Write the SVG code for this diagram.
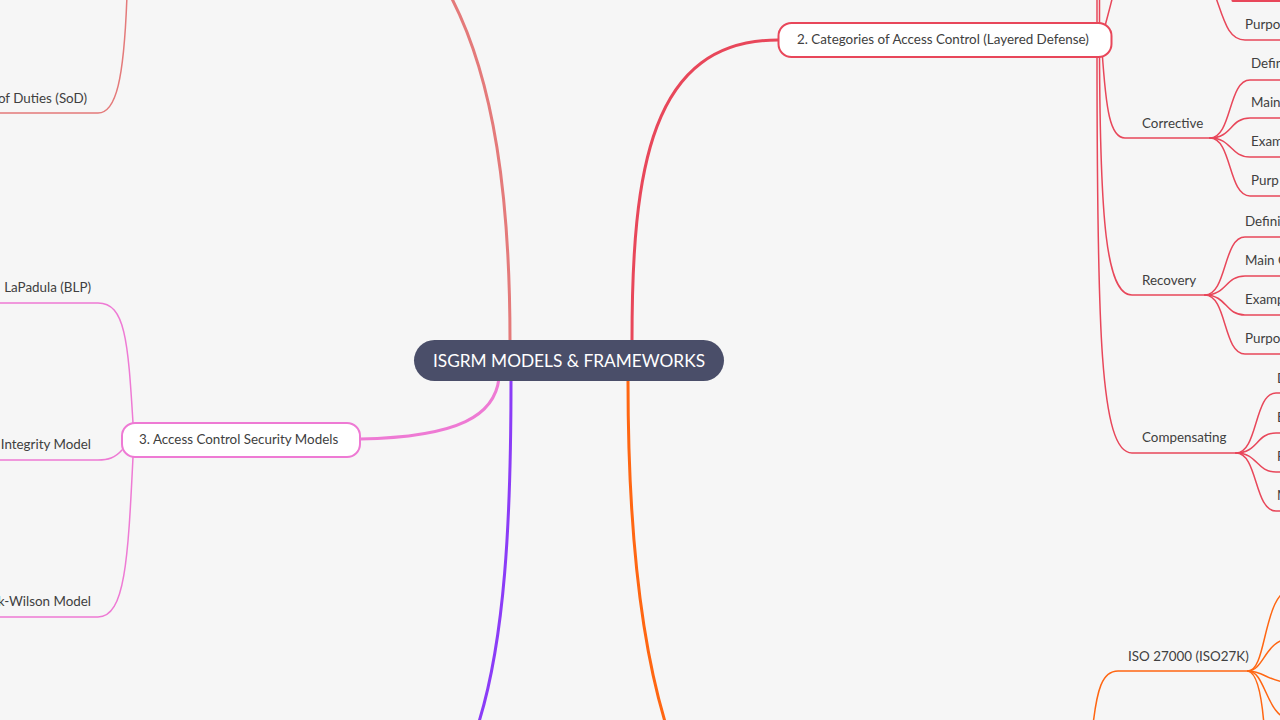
<svg xmlns="http://www.w3.org/2000/svg" width="1280" height="720" viewBox="0 0 1280 720">
<style>
  .bg{fill:#f6f6f6}
  .main{fill:none;stroke-width:3;stroke-linecap:round}
  .sub{fill:none;stroke-width:1.5;stroke-linecap:round}
  .red{stroke:#e8475a}
  .sal{stroke:#e47a7a}
  .pink{stroke:#ee7ad4}
  .purple{stroke:#8b3cf7}
  .orange{stroke:#ff6612}
  .t{font-family:Lato,"Liberation Sans",sans-serif;font-size:13.4px;fill:#404040}
  .box{fill:#ffffff;stroke-width:2}
  .title{font-family:Lato,"Liberation Sans",sans-serif;font-size:17.3px;fill:#ffffff}
</style>
<rect class="bg" x="0" y="0" width="1280" height="720"/>

<g id="connectors">
  <!-- main branches -->
  <path class="main sal" d="M510,341 C510,200 495,80 450,-5"/>
  <path class="main red" d="M632,341 C632,170 650,40 778,40"/>
  <path class="main pink" d="M499,378 C495,415 460,437 360,439"/>
  <path class="main purple" d="M511,381 C511,520 505,640 478,725"/>
  <path class="main orange" d="M628,381 C628,520 640,640 666,725"/>

  <!-- top-left salmon -->
  <path class="sub sal" d="M127,-5 C124,80 116,113 98,113 L-5,113"/>

  <!-- node 3 children -->
  <path class="sub pink" d="M133,423 C128,340 125,303 98,303 L-5,303"/>
  <path class="sub pink" d="M122,450 C115,458 108,460 98,460 L-5,460"/>
  <path class="sub pink" d="M133,457 C128,560 125,617 98,617 L-5,617"/>

  <!-- node 2 children above -->
  <path class="sub red" d="M1097,40 L1097,-5"/>
  <path class="sub red" d="M1099.5,40 L1099.5,-5"/>
  <path class="sub red" d="M1104,30 C1107,18 1110,8 1113,-5"/>
  <!-- node 2 children below -->
  <path class="sub red" d="M1102,50 C1106,110 1110,138 1125,138 L1210,138"/>
  <path class="sub red" d="M1099.5,50 C1100,220 1106,295 1132,295 L1205,295"/>
  <path class="sub red" d="M1097,50 C1097,330 1100,453 1132,453 L1236,453"/>

  <!-- top-right leaves -->
  <path class="sub red" d="M1215,-5 C1224,20 1228,40 1245,40 L1285,40"/>
  <path class="main red" d="M1233,0.5 L1285,0.5"/>

  <!-- Corrective leaves -->
  <path class="sub red" d="M1210,138 C1232,138 1228,80 1250,80 L1285,80"/>
  <path class="sub red" d="M1210,138 C1232,138 1230,118 1250,118 L1285,118"/>
  <path class="sub red" d="M1210,138 C1232,138 1230,157 1250,157 L1285,157"/>
  <path class="sub red" d="M1210,138 C1232,138 1228,196 1250,196 L1285,196"/>

  <!-- Recovery leaves -->
  <path class="sub red" d="M1205,295 C1227,295 1223,237 1245,237 L1285,237"/>
  <path class="sub red" d="M1205,295 C1227,295 1225,276 1245,276 L1285,276"/>
  <path class="sub red" d="M1205,295 C1227,295 1225,315 1245,315 L1285,315"/>
  <path class="sub red" d="M1205,295 C1227,295 1223,354 1245,354 L1285,354"/>

  <!-- Compensating leaves -->
  <path class="sub red" d="M1236,453 C1258,453 1254,393 1276,393 L1285,393"/>
  <path class="sub red" d="M1236,453 C1258,453 1256,433 1276,433 L1285,433"/>
  <path class="sub red" d="M1236,453 C1258,453 1256,472 1276,472 L1285,472"/>
  <path class="sub red" d="M1236,453 C1258,453 1254,511 1276,511 L1285,511"/>

  <!-- ISO 27000 -->
  <path class="sub orange" d="M1093,725 C1097,690 1102,671 1118,671 L1248,671"/>
  <path class="sub orange" d="M1248,671 C1268,671 1262,588 1295,588"/>
  <path class="sub orange" d="M1248,671 C1264,671 1265,639 1292,638"/>
  <path class="sub orange" d="M1248,671 C1264,671 1268,682 1292,683"/>
  <path class="sub orange" d="M1248,671 C1266,671 1266,718 1292,720"/>
  <path class="sub orange" d="M1248,671 C1258,673 1262,700 1264,725"/>
</g>

<g id="root">
  <rect x="414" y="340" width="310" height="41" rx="20.5" fill="#4a4e69"/>
  <text class="title" x="569" y="367" text-anchor="middle">ISGRM MODELS &amp; FRAMEWORKS</text>
</g>

<g id="node-categories">
  <rect class="box red" x="778.5" y="23" width="333" height="34" rx="13"/>
  <text class="t" x="797" y="44">2. Categories of Access Control (Layered Defense)</text>
</g>

<g id="node-models">
  <rect class="box pink" x="122" y="423" width="238" height="34" rx="13"/>
  <text class="t" x="139" y="444">3. Access Control Security Models</text>
</g>

<g id="node-sod"><text class="t" x="87" y="103" text-anchor="end">of Duties (SoD)</text></g>
<g id="node-blp"><text class="t" x="91" y="292" text-anchor="end">LaPadula (BLP)</text></g>
<g id="node-integrity"><text class="t" x="91" y="449" text-anchor="end">Integrity Model</text></g>
<g id="node-clark"><text class="t" x="91" y="606" text-anchor="end">k-Wilson Model</text></g>

<g id="node-corrective"><text class="t" x="1142" y="128">Corrective</text></g>
<g id="node-recovery"><text class="t" x="1142" y="285">Recovery</text></g>
<g id="node-compensating"><text class="t" x="1142" y="442">Compensating</text></g>
<g id="node-iso"><text class="t" x="1128" y="661">ISO 27000 (ISO27K)</text></g>

<g id="node-top-purpose"><text class="t" x="1245" y="29">Purpo</text></g>

<g id="node-corr-leaves">
  <text class="t" x="1251" y="68">Defin</text>
  <text class="t" x="1251" y="107">Main</text>
  <text class="t" x="1251" y="146">Exam</text>
  <text class="t" x="1251" y="185">Purp</text>
</g>
<g id="node-rec-leaves">
  <text class="t" x="1245" y="226">Defini</text>
  <text class="t" x="1245" y="265">Main C</text>
  <text class="t" x="1245" y="304">Examp</text>
  <text class="t" x="1245" y="343">Purpo</text>
</g>
<g id="node-comp-leaves">
  <text class="t" x="1277" y="383">D</text>
  <text class="t" x="1277" y="422">E</text>
  <text class="t" x="1277" y="461">P</text>
  <text class="t" x="1277" y="500">M</text>
</g>
</svg>
